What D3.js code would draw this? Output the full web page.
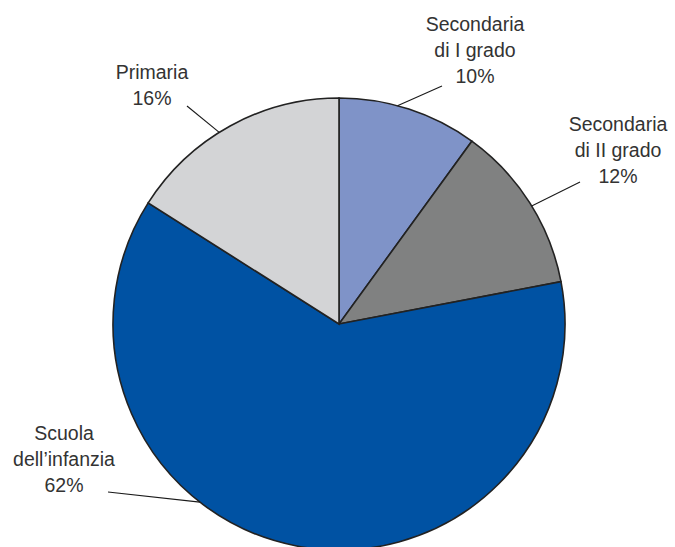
<!DOCTYPE html>
<html>
<head>
<meta charset="utf-8">
<script src="https://cdn.jsdelivr.net/npm/d3@7"></script>
<style>
  html, body { margin: 0; padding: 0; background: #fff; }
  svg { display: block; }
  text { font-family: "Liberation Sans", Arial, sans-serif; font-size: 19.5px; fill: #333; }
</style>
</head>
<body>
<svg id="chart" width="675" height="547"></svg>
<script>
// Slice data, clockwise from 12 o'clock
const categories = ["Secondaria di I grado", "Secondaria di II grado", "Scuola dell\u2019infanzia", "Primaria"];
const values = [10, 12, 62, 16];
const labelLines = [
  ["Secondaria", "di I grado", "10%"],
  ["Secondaria", "di II grado", "12%"],
  ["Scuola", "dell\u2019infanzia", "62%"],
  ["Primaria", "16%"]
];
const colors = ["#7f93c8", "#808181", "#0052a3", "#d3d4d6"];

// Label placement: text centre x, first baseline y, leader start angle (deg) and leader end
const labelLayout = [
  { x: 475, y: 31, a: 15, ex: 442, ey: 86 },
  { x: 618, y: 131, a: 58.5, ex: 580, ey: 182 },
  { x: 64, y: 440, a: 218, ex: 108, ey: 492 },
  { x: 152, y: 79, a: 328, ex: 187, ey: 106 }
];

const svg = d3.select("#chart");
const cx = 339, cy = 324, r = 226;
const g = svg.append("g").attr("transform", `translate(${cx},${cy})`);

const pie = d3.pie().sort(null).value(d => d)(values);
const arc = d3.arc().innerRadius(0).outerRadius(r);

g.selectAll("path.slice")
  .data(pie)
  .join("path")
  .attr("class", "slice")
  .attr("d", arc)
  .attr("fill", (d, i) => colors[i])
  .attr("stroke", "#222")
  .attr("stroke-width", 1.6)
  .attr("stroke-linejoin", "miter");

// Leader lines from the rim to the labels
const rad = Math.PI / 180;
svg.selectAll("line.leader")
  .data(labelLayout)
  .join("line")
  .attr("class", "leader")
  .attr("x1", d => cx + r * Math.sin(d.a * rad))
  .attr("y1", d => cy - r * Math.cos(d.a * rad))
  .attr("x2", d => d.ex)
  .attr("y2", d => d.ey)
  .attr("stroke", "#1a1a1a")
  .attr("stroke-width", 1.1);

// Labels
const lh = 26;
svg.selectAll("text.lbl")
  .data(labelLayout)
  .join("text")
  .attr("class", "lbl")
  .attr("text-anchor", "middle")
  .each(function (d, i) {
    d3.select(this).selectAll("tspan")
      .data(labelLines[i])
      .join("tspan")
      .attr("x", d.x)
      .attr("y", (t, j) => d.y + j * lh)
      .text(t => t);
  });
</script>
</body>
</html>
